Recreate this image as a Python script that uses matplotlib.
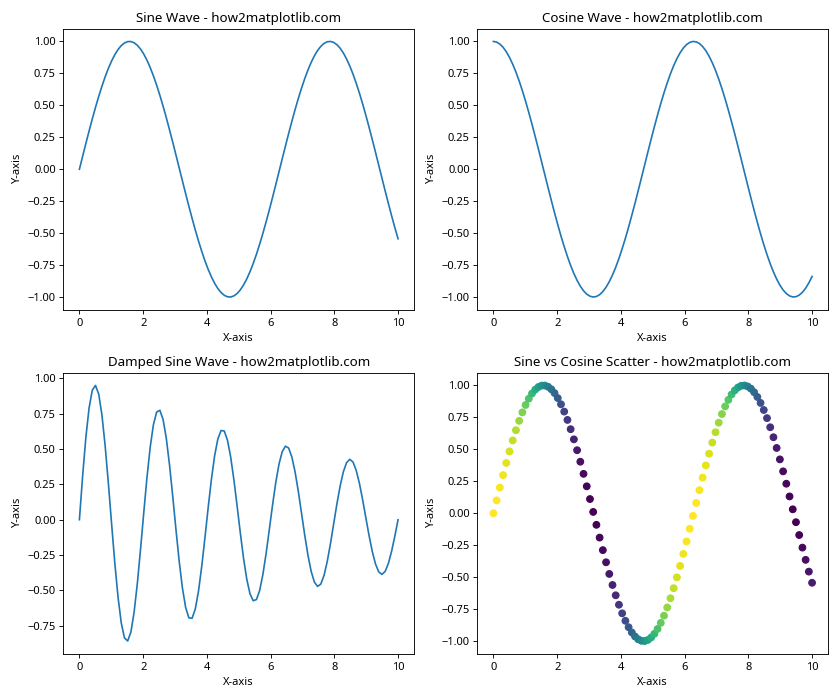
import matplotlib
matplotlib.use("Agg")
import matplotlib.pyplot as plt

plt.rcParams['font.family'] = ['Noto Sans', 'DejaVu Sans']

# 100 sample positions from 0 to 10
x_vals = [
    0.0000, 0.1010, 0.2020, 0.3030, 0.4040, 0.5051, 0.6061, 0.7071, 0.8081, 0.9091,
    1.0101, 1.1111, 1.2121, 1.3131, 1.4141, 1.5152, 1.6162, 1.7172, 1.8182, 1.9192,
    2.0202, 2.1212, 2.2222, 2.3232, 2.4242, 2.5253, 2.6263, 2.7273, 2.8283, 2.9293,
    3.0303, 3.1313, 3.2323, 3.3333, 3.4343, 3.5354, 3.6364, 3.7374, 3.8384, 3.9394,
    4.0404, 4.1414, 4.2424, 4.3434, 4.4444, 4.5455, 4.6465, 4.7475, 4.8485, 4.9495,
    5.0505, 5.1515, 5.2525, 5.3535, 5.4545, 5.5556, 5.6566, 5.7576, 5.8586, 5.9596,
    6.0606, 6.1616, 6.2626, 6.3636, 6.4646, 6.5657, 6.6667, 6.7677, 6.8687, 6.9697,
    7.0707, 7.1717, 7.2727, 7.3737, 7.4747, 7.5758, 7.6768, 7.7778, 7.8788, 7.9798,
    8.0808, 8.1818, 8.2828, 8.3838, 8.4848, 8.5859, 8.6869, 8.7879, 8.8889, 8.9899,
    9.0909, 9.1919, 9.2929, 9.3939, 9.4949, 9.5960, 9.6970, 9.7980, 9.8990, 10.0000,
]

sine_vals = [
    0.0000, 0.1008, 0.2006, 0.2984, 0.3931, 0.4839, 0.5697, 0.6496, 0.7230, 0.7890,
    0.8469, 0.8962, 0.9364, 0.9671, 0.9878, 0.9985, 0.9990, 0.9893, 0.9696, 0.9399,
    0.9007, 0.8524, 0.7952, 0.7300, 0.6574, 0.5781, 0.4930, 0.4030, 0.3082, 0.2107,
    0.1111, 0.0103, -0.0906, -0.1906, -0.2885, -0.3837, -0.4748, -0.5612, -0.6418, -0.7159,
    -0.7828, -0.8414, -0.8915, -0.9327, -0.9641, -0.9861, -0.9978, -0.9994, -0.9908, -0.9720,
    -0.9434, -0.9051, -0.8577, -0.8015, -0.7371, -0.6651, -0.5864, -0.5018, -0.4120, -0.3180,
    -0.2208, -0.1213, -0.0206, 0.0803, 0.1804, 0.2788, 0.3742, 0.4658, 0.5526, 0.6337,
    0.7085, 0.7761, 0.8358, 0.8870, 0.9290, 0.9615, 0.9842, 0.9971, 0.9997, 0.9921,
    0.9744, 0.9468, 0.9095, 0.8629, 0.8076, 0.7440, 0.6727, 0.5946, 0.5106, 0.4213,
    0.3277, 0.2308, 0.1315, 0.0309, -0.0700, -0.1704, -0.2688, -0.3646, -0.4567, -0.5440,
]

cosine_vals = [
    1.0000, 0.9949, 0.9797, 0.9545, 0.9195, 0.8751, 0.8219, 0.7603, 0.6909, 0.6145,
    0.5318, 0.4437, 0.3509, 0.2545, 0.1561, 0.0556, -0.0454, -0.1459, -0.2449, -0.3414,
    -0.4345, -0.5230, -0.6063, -0.6834, -0.7535, -0.8160, -0.8701, -0.9152, -0.9513, -0.9776,
    -0.9938, -0.9999, -0.9959, -0.9817, -0.9575, -0.9235, -0.8801, -0.8277, -0.7669, -0.6982,
    -0.6224, -0.5405, -0.4530, -0.3606, -0.2653, -0.1661, -0.0659, 0.0351, 0.1357, 0.2349,
    0.3317, 0.4251, 0.5142, 0.5980, 0.6756, 0.7468, 0.8100, 0.8650, 0.9112, 0.9481,
    0.9753, 0.9926, 0.9998, 0.9968, 0.9836, 0.9604, 0.9274, 0.8849, 0.8334, 0.7735,
    0.7056, 0.6306, 0.5491, 0.4618, 0.3702, 0.2748, 0.1765, 0.0761, -0.0248, -0.1255,
    -0.2249, -0.3220, -0.4158, -0.5054, -0.5897, -0.6683, -0.7400, -0.8040, -0.8598, -0.9069,
    -0.9448, -0.9730, -0.9913, -0.9995, -0.9975, -0.9854, -0.9632, -0.9312, -0.8896, -0.8391,
]

damped_vals = [
    0.0000, 0.3089, 0.5810, 0.7903, 0.9171, 0.9507, 0.8894, 0.7413, 0.5231, 0.2572,
    -0.0287, -0.3061, -0.5477, -0.7302, -0.8369, -0.8586, -0.7949, -0.6537, -0.4508, -0.2074,
    0.0518, 0.3007, 0.5148, 0.6736, 0.7627, 0.7745, 0.7094, 0.5754, 0.3871, 0.1644,
    -0.0702, -0.2933, -0.4827, -0.6205, -0.6944, -0.6979, -0.6324, -0.5056, -0.3312, -0.1277,
    0.0845, 0.2841, 0.4515, 0.5709, 0.6315, 0.6283, 0.5630, 0.4434, 0.2822, 0.0963,
    -0.0954, -0.2737, -0.4215, -0.5246, -0.5737, -0.5651, -0.5007, -0.3880, -0.2393, -0.0698,
    0.1033, 0.2625, 0.3927, 0.4815, 0.5207, 0.5077, 0.4446, 0.3389, 0.2018, 0.0473,
    -0.1086, -0.2507, -0.3652, -0.4413, -0.4721, -0.4556, -0.3943, -0.2953, -0.1690, -0.0285,
    0.1120, 0.2386, 0.3390, 0.4039, 0.4276, 0.4085, 0.3493, 0.2567, 0.1406, 0.0129,
    -0.1135, -0.2262, -0.3141, -0.3694, -0.3869, -0.3657, -0.3089, -0.2226, -0.1159, 0.0000,
]

fig, axs = plt.subplots(2, 2, figsize=(10.5, 8.75), dpi=80)

axs[0, 0].plot(x_vals, sine_vals)
axs[0, 0].set_title("Sine Wave - how2matplotlib.com")

axs[0, 1].plot(x_vals, cosine_vals)
axs[0, 1].set_title("Cosine Wave - how2matplotlib.com")

axs[1, 0].plot(x_vals, damped_vals)
axs[1, 0].set_title("Damped Sine Wave - how2matplotlib.com")

# scatter coloured by the cosine value
axs[1, 1].scatter(x_vals, sine_vals, c=cosine_vals, cmap='viridis')
axs[1, 1].set_title("Sine vs Cosine Scatter - how2matplotlib.com")

for ax in axs.flat:
    ax.set_xlabel("X-axis")
    ax.set_ylabel("Y-axis")

plt.tight_layout()
plt.savefig("out.png", dpi=80)
